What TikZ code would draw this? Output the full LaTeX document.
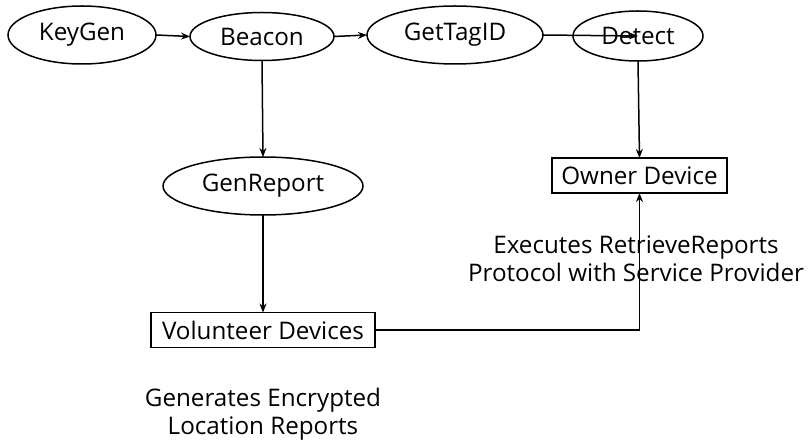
\documentclass[tikz,border=0pt]{standalone}
\usepackage{fontspec}
\setmainfont{Open Sans}
\usetikzlibrary{arrows.meta,shapes.geometric}
\begin{document}
\begin{tikzpicture}[x=1pt,y=-1pt,
  font=\fontsize{24.2}{28}\selectfont,
  every node/.style={inner sep=0pt,outer sep=0pt},
  proc/.style={ellipse,draw,line width=1.5pt},
  dev/.style={rectangle,draw,line width=1.5pt},
  flow/.style={line width=1.5pt,-{Stealth[length=9pt,width=7pt]}}]
\useasboundingbox (0,0) rectangle (812,443);
% protocol steps
\node[proc,minimum width=148,minimum height=58] (keygen) at (82,35) {KeyGen};
\node[proc,minimum width=144,minimum height=48] (beacon) at (262,36.5) {Beacon};
\node[proc,minimum width=176,minimum height=58] (gettag) at (455,35) {GetTagID};
\node[proc,minimum width=130,minimum height=50] (detect) at (638,36) {Detect};
\node[proc,minimum width=200,minimum height=58] (genrep) at (263,186) {GenReport};
% devices
\node[dev,minimum width=175,minimum height=35] (owner) at (639.5,175.5) {Owner Device};
\node[dev,minimum width=224,minimum height=35] (vol) at (263,330) {Volunteer Devices};
% descriptions
\node[align=center] (exec) at (636,259) {Executes RetrieveReports\\Protocol with Service Provider};
\node[align=center] (gen) at (263,414) {Generates Encrypted\\Location Reports};
% connectors
\draw[flow] (keygen.east) -- (beacon.west);
\draw[flow] (beacon.east) -- (gettag.west);
\draw[flow] (gettag.east) -- (detect.center);
\draw[flow] (beacon.south) -- (genrep.north);
\draw[flow] (detect.south) -- (owner.north);
\draw[flow] (genrep.south) -- (vol.north);
\draw[flow] (vol.east) -| (owner.south);
\end{tikzpicture}
\end{document}
